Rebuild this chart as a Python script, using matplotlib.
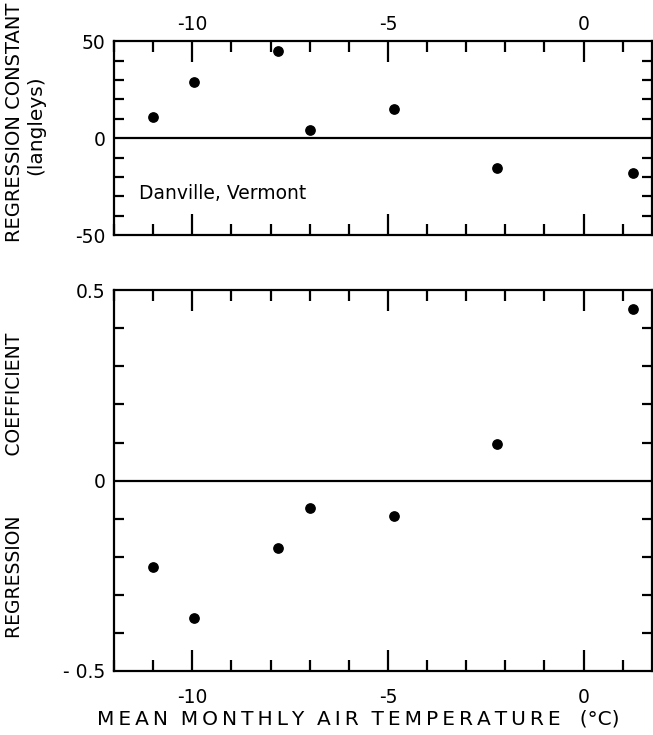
import matplotlib.pyplot as plt
from matplotlib.ticker import MultipleLocator

plt.rcParams['font.family'] = ['DejaVu Sans']

# mean monthly air temperature (deg C)
temp = [-11.0, -9.95, -7.8, -7.0, -4.85, -2.2, 1.27]
# regression constant (langleys)
reg_const = [11, 29, 45, 4, 15, -15.5, -18]
# regression coefficient
reg_coef = [-0.228, -0.362, -0.176, -0.073, -0.094, 0.097, 0.45]

xticks = [-10, -5, 0]
xticklabels = ['-10', '-5', '0']


def spaced(s):
    # thin spaces between letters, wider gaps between words
    return '  '.join('\u2009'.join(w) for w in s.split(' '))


fig = plt.figure(figsize=(6.53, 7.35), dpi=100)
ax1 = fig.add_axes([0.1746, 0.680, 0.8239, 0.264])
ax2 = fig.add_axes([0.1746, 0.0871, 0.8239, 0.518])

for ax in (ax1, ax2):
    ax.set_xlim(-12, 1.75)
    ax.axhline(0, color='black', lw=1.6)
    for s in ax.spines.values():
        s.set_linewidth(1.6)
    ax.set_xticks(xticks)
    ax.xaxis.set_minor_locator(MultipleLocator(1))
    ax.tick_params(which='both', direction='in', top=True, right=True,
                   width=1.6, labelsize=13.5, pad=6)
    ax.tick_params(axis='x', which='major', length=15)
    ax.tick_params(axis='x', which='minor', length=8)
    ax.tick_params(axis='y', which='major', length=0)
    ax.tick_params(axis='y', which='minor', length=7)

# top panel
ax1.scatter(temp, reg_const, s=45, color='black', zorder=3)
ax1.set_ylim(-50, 50)
ax1.set_yticks([-50, 0, 50])
ax1.set_yticklabels(['-50', '0', '50'])
ax1.yaxis.set_minor_locator(MultipleLocator(10))
ax1.tick_params(axis='x', labelbottom=False, labeltop=True, pad=5)
ax1.set_xticklabels(xticklabels)
ax1.text(-11.35, -28.5, 'Danville, Vermont', fontsize=13.5, va='center')
fig.text(0.022, 0.833, 'REGRESSION CONSTANT', rotation=90, fontsize=14,
         ha='center', va='center')
fig.text(0.055, 0.83, '(langleys)', rotation=90, fontsize=14.5,
         ha='center', va='center')

# bottom panel
ax2.scatter(temp, reg_coef, s=45, color='black', zorder=3)
ax2.set_ylim(-0.5, 0.5)
ax2.set_yticks([-0.5, 0, 0.5])
ax2.set_yticklabels(['- 0.5', '0', '0.5'])
ax2.yaxis.set_minor_locator(MultipleLocator(0.1))
ax2.set_xticklabels(xticklabels)
ax2.tick_params(axis='x', pad=12)
fig.text(0.022, 0.34, 'REGRESSION          COEFFICIENT',
         rotation=90, fontsize=13.5, ha='center', va='center')
fig.text(0.549, 0.022, spaced('MEAN MONTHLY AIR TEMPERATURE') + '   (°C)',
         fontsize=14.5, ha='center', va='center')

fig.savefig('out.png', dpi=100)
